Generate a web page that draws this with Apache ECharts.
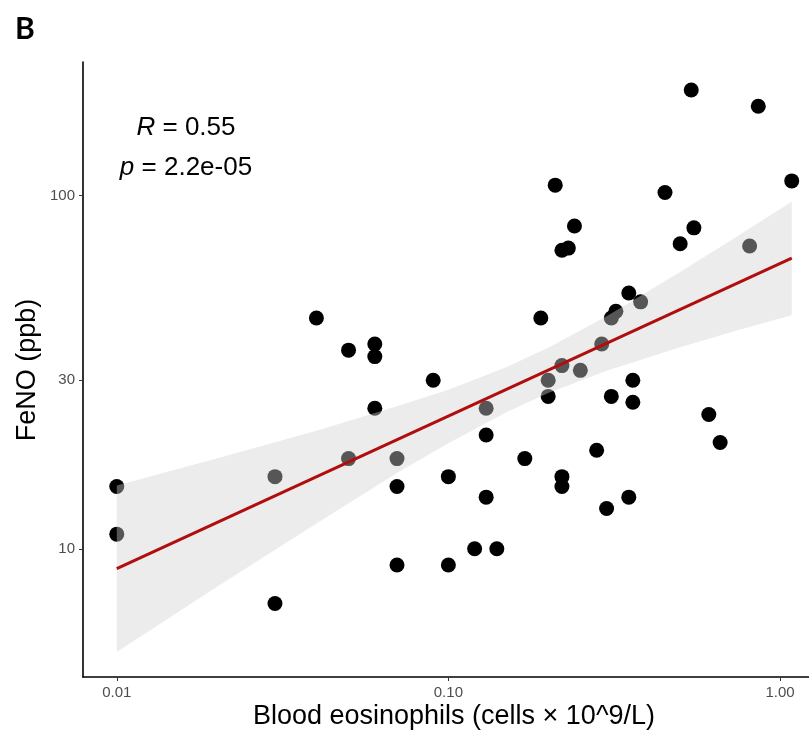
<!DOCTYPE html>
<html>
<head>
<meta charset="utf-8">
<script src="https://cdn.jsdelivr.net/npm/echarts@6/dist/echarts.min.js"></script>
<style>
html,body{margin:0;padding:0;background:#fff;}
#chart{width:809px;height:735px;}
</style>
</head>
<body>
<div id="chart"></div>
<script>
// Blood eosinophils (x) and FeNO (y)
const eos = [0.01,0.01,0.03,0.03,0.04,0.05,0.05,0.06,0.06,0.06,0.07,0.07,0.07,0.09,0.10,0.10,0.12,0.14,0.13,0.13,0.13,0.17,0.19,0.20,0.20,0.21,0.22,0.22,0.22,0.22,0.23,0.24,0.25,0.28,0.29,0.30,0.31,0.31,0.32,0.35,0.35,0.36,0.36,0.38,0.45,0.50,0.54,0.55,0.61,0.66,0.81,0.86,1.085];
const feno = [15,11,16,7,45,36.5,18,38,35,25,18,15,9,30,16,9,10,10,25,21,14,18,45,30,27,107,33,16,15,70,71,82,32,19,38,13,27,45,47,53,14,30,26,50,102,73,199,81,24,20,72,179,110];

// Fitted regression line (log-log), ends
const fitX = [0.01, 1.085];
const fitY = [8.78, 66.5];

// Confidence band edges
const bandX      = [0.01, 0.02, 0.04, 0.07, 0.10, 0.15, 0.20, 0.30, 0.50, 0.75, 1.085];
const bandUpperY = [15.1, 18.0, 21.6, 25.3, 28.2, 32.7, 37.1, 45.5, 60.7, 77.1, 96.0];
const bandLowerY = [5.1,  7.8,  11.8, 16.4, 19.9, 24.4, 27.6, 31.9, 37.2, 41.6, 45.8];

// Axis ticks
const xTicks = [0.01, 0.1, 1];
const xTickLabels = ['0.01', '0.10', '1.00'];
const yTicks = [10, 30, 100];
const yTickLabels = ['10', '30', '100'];

const xMin = 0.00791, xMax = 1.2232;
const yMin = 4.335, yMax = 238.8;

const points = eos.map((x, i) => [x, feno[i]]);
const fitLine = fitX.map((x, i) => [x, fitY[i]]);

function nearestLabel(v, ticks, labels) {
  let best = 0, bd = Infinity;
  ticks.forEach((t, i) => { const d = Math.abs(Math.log(v) - Math.log(t)); if (d < bd) { bd = d; best = i; } });
  return labels[best];
}

const chart = echarts.init(document.getElementById('chart'), null, {renderer: 'canvas'});
const FONT = '"Liberation Sans", Arial, Helvetica, sans-serif';

chart.setOption({
  animation: false,
  backgroundColor: '#ffffff',
  grid: {left: 83, top: 62, right: 0, bottom: 58, containLabel: false},
  xAxis: {
    type: 'log', logBase: 10, min: xMin, max: xMax,
    axisLine: {show: true, lineStyle: {color: '#000', width: 1.6}},
    axisTick: {show: true, length: 4, lineStyle: {color: '#333', width: 1}, customValues: xTicks},
    axisLabel: {show: true, color: '#4d4d4d', fontSize: 15, fontFamily: FONT, margin: 8,
      customValues: xTicks, formatter: v => nearestLabel(v, xTicks, xTickLabels)},
    splitLine: {show: false}, minorTick: {show: false}
  },
  yAxis: {
    type: 'log', logBase: 10, min: yMin, max: yMax,
    axisLine: {show: true, lineStyle: {color: '#000', width: 1.6}},
    axisTick: {show: true, length: 4, lineStyle: {color: '#333', width: 1}, customValues: yTicks},
    axisLabel: {show: true, color: '#4d4d4d', fontSize: 15, fontFamily: FONT, margin: 8,
      customValues: yTicks, formatter: v => nearestLabel(v, yTicks, yTickLabels)},
    splitLine: {show: false}, minorTick: {show: false}
  },
  series: [
    {
      type: 'scatter', data: points, symbol: 'circle', symbolSize: 15, z: 2,
      itemStyle: {color: '#000', opacity: 1}, emphasis: {disabled: true}
    },
    {
      type: 'custom', z: 3, data: [0], clip: true, silent: true,
      renderItem: function (params, api) {
        const pts = [];
        for (let i = 0; i < bandX.length; i++) pts.push(api.coord([bandX[i], bandUpperY[i]]));
        for (let i = bandX.length - 1; i >= 0; i--) pts.push(api.coord([bandX[i], bandLowerY[i]]));
        return {type: 'polygon', shape: {points: pts, smooth: 0}, style: {fill: 'rgba(208,208,208,0.41)', stroke: null}};
      }
    },
    {
      type: 'line', data: fitLine, z: 4, symbol: 'none', silent: true,
      lineStyle: {color: '#b00e0e', width: 3}
    }
  ],
  graphic: [
    {type: 'text', left: 15, top: 14, style: {text: 'B', fontSize: 30, fontWeight: 'bold', fontFamily: 'Lato, "Open Sans", sans-serif', fill: '#000'}},
    {type: 'text', x: 186, y: 128, style: {text: '{i|R} = 0.55', align: 'center', verticalAlign: 'middle', fontSize: 26, fontFamily: FONT, fill: '#000',
      rich: {i: {fontStyle: 'italic', fontSize: 26, fontFamily: FONT, fill: '#000'}}}},
    {type: 'text', x: 186, y: 168, style: {text: '{i|p} = 2.2e-05', align: 'center', verticalAlign: 'middle', fontSize: 26, fontFamily: FONT, fill: '#000',
      rich: {i: {fontStyle: 'italic', fontSize: 26, fontFamily: FONT, fill: '#000'}}}},
    {type: 'text', x: 454, y: 717, style: {text: 'Blood eosinophils (cells × 10^9/L)', align: 'center', verticalAlign: 'middle', fontSize: 27, fontFamily: FONT, fill: '#000'}},
    {type: 'text', x: 28, y: 370, rotation: Math.PI / 2, style: {text: 'FeNO (ppb)', align: 'center', verticalAlign: 'middle', fontSize: 27, fontFamily: FONT, fill: '#000'}}
  ]
});
</script>
</body>
</html>
